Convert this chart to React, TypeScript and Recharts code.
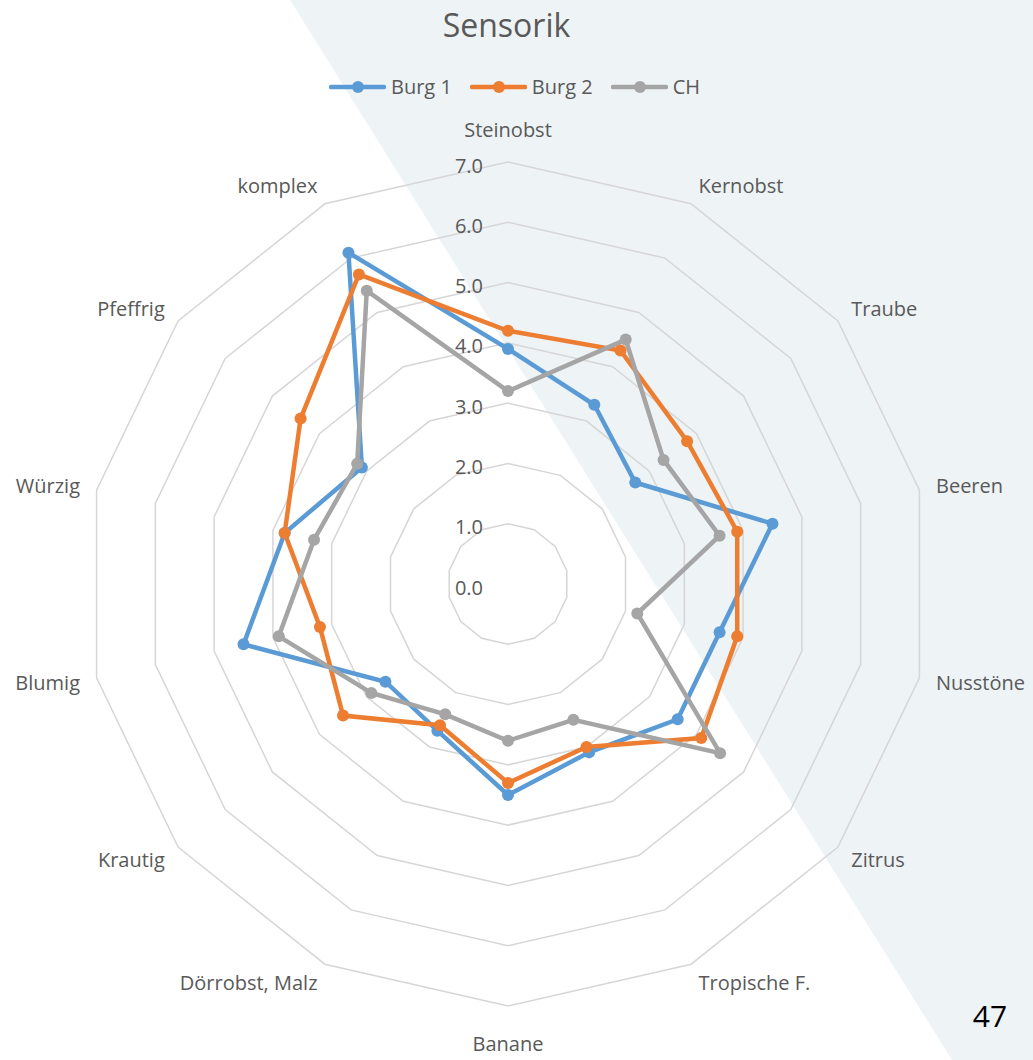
import React from "react";
import {
  RadarChart,
  Radar,
  PolarGrid,
  PolarAngleAxis,
  PolarRadiusAxis,
  Legend,
} from "recharts";

const categories = [
  "Steinobst",
  "Kernobst",
  "Traube",
  "Beeren",
  "Nusstöne",
  "Zitrus",
  "Tropische F.",
  "Banane",
  "Dörrobst, Malz",
  "Krautig",
  "Blumig",
  "Würzig",
  "Pfeffrig",
  "komplex",
];

const burg1 = [3.9, 3.3, 2.7, 4.5, 3.6, 3.6, 3.1, 3.5, 2.7, 2.6, 4.5, 3.8, 3.1, 6.1];
const burg2 = [4.2, 4.3, 3.8, 3.9, 3.9, 4.1, 3.0, 3.3, 2.6, 3.5, 3.2, 3.8, 4.4, 5.7];
const ch = [3.2, 4.5, 3.3, 3.6, 2.2, 4.5, 2.5, 2.6, 2.4, 2.9, 3.9, 3.3, 3.2, 5.4];

const radiusTicks = [0, 1, 2, 3, 4, 5, 6, 7];

const series = [
  { key: "burg1", name: "Burg 1", color: "#5B9BD5" },
  { key: "burg2", name: "Burg 2", color: "#ED7D31" },
  { key: "ch", name: "CH", color: "#A5A5A5" },
];

const data = categories.map((name, i) => ({
  name,
  burg1: burg1[i],
  burg2: burg2[i],
  ch: ch[i],
}));

const W = 1033;
const H = 1060;
const CX = 508;
const CY = 584;
const R = 422;
const TEXT = "#595959";
const FONT = "'Open Sans', sans-serif";

function AngleTick(props: any) {
  const { x, y, payload } = props;
  const dx = x - CX;
  const dy = y - CY;
  const len = Math.hypot(dx, dy) || 1;
  const ux = dx / len;
  const uy = dy / len;
  const vx = CX + ux * R;
  const vy = CY + uy * R;
  let anchor: "start" | "end" | "middle";
  let tx: number;
  let ty: number;
  if (Math.abs(ux) < 0.05) {
    anchor = "middle";
    tx = vx;
    ty = vy + uy * 35 + 2;
  } else {
    anchor = ux > 0 ? "start" : "end";
    tx = vx + ux * 17;
    ty = vy + uy * 20;
  }
  return (
    <text
      x={tx}
      y={ty}
      textAnchor={anchor}
      dominantBaseline="central"
      fill={TEXT}
      fontSize={20}
      fontFamily={FONT}
    >
      {payload.value}
    </text>
  );
}

function RadiusTick(props: any) {
  const { x, y, payload } = props;
  return (
    <text
      x={x - 25}
      y={y + 3}
      textAnchor="end"
      dominantBaseline="central"
      fill={TEXT}
      fontSize={20}
      fontFamily={FONT}
    >
      {Number(payload.value).toFixed(1)}
    </text>
  );
}

function LegendContent() {
  return (
    <div
      style={{
        display: "flex",
        justifyContent: "center",
        alignItems: "center",
        gap: 18,
        fontFamily: FONT,
        fontSize: 20,
        color: TEXT,
        paddingRight: 4,
      }}
    >
      {series.map((s) => (
        <div key={s.key} style={{ display: "flex", alignItems: "center", gap: 5 }}>
          <svg width={57} height={14}>
            <line x1={2} y1={7} x2={55} y2={7} stroke={s.color} strokeWidth={4.5} strokeLinecap="round" />
            <circle cx={29} cy={7} r={6} fill={s.color} />
          </svg>
          <span style={{ lineHeight: "28px" }}>{s.name}</span>
        </div>
      ))}
    </div>
  );
}

export default function App() {
  return (
    <div style={{ position: "absolute", left: 0, top: 0, width: W, height: H, background: "#fff", overflow: "hidden" }}>
      <svg width={W} height={H} style={{ position: "absolute", left: 0, top: 0 }}>
        <polygon points={`290,0 ${W},0 ${W},${H} 952,${H}`} fill="#EEF3F6" />
      </svg>
      <div
        style={{
          position: "absolute",
          left: 0,
          top: 2,
          width: W - 20,
          textAlign: "center",
          fontFamily: FONT,
          fontSize: 32,
          lineHeight: "46px",
          color: TEXT,
        }}
      >
        Sensorik
      </div>
      <div style={{ position: "absolute", left: 0, top: 0 }}>
        <RadarChart
          width={W}
          height={H}
          data={data}
          cx={CX}
          cy={CY}
          outerRadius={R}
          margin={{ top: 0, right: 0, bottom: 0, left: 0 }}
        >
          <PolarGrid gridType="polygon" radialLines={false} stroke="#D6D6D6" strokeWidth={1.5} />
          <PolarAngleAxis dataKey="name" tick={<AngleTick />} tickLine={false} axisLine={false} />
          <PolarRadiusAxis
            angle={90}
            domain={[0, 7]}
            ticks={radiusTicks}
            tickCount={8}
            axisLine={false}
            tick={<RadiusTick />}
          />
          {series.map((s) => (
            <Radar
              key={s.key}
              name={s.name}
              dataKey={s.key}
              stroke={s.color}
              strokeWidth={4.5}
              fill="none"
              fillOpacity={0}
              dot={{ r: 6, fill: s.color, stroke: s.color, strokeWidth: 0, fillOpacity: 1 }}
              isAnimationActive={false}
            />
          ))}
          <Legend
            verticalAlign="top"
            content={<LegendContent />}
            wrapperStyle={{ top: 73, left: 0, width: W }}
          />
        </RadarChart>
      </div>
      <div
        style={{
          position: "absolute",
          left: 960,
          top: 996,
          width: 60,
          textAlign: "center",
          fontFamily: FONT,
          fontSize: 30,
          lineHeight: "40px",
          color: "#000",
        }}
      >
        47
      </div>
    </div>
  );
}
